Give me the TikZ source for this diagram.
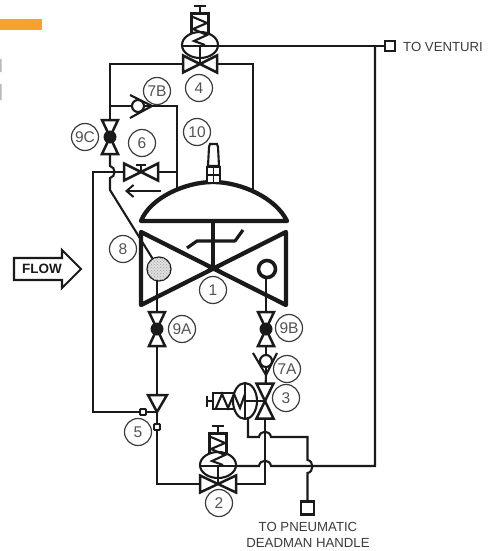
\documentclass[tikz,border=0pt]{standalone}
\usepackage{fontspec}
\setmainfont{Liberation Sans}
\usetikzlibrary{patterns,arrows.meta}
\definecolor{barorange}{HTML}{F9A12E}
\definecolor{ink}{HTML}{1A1A1A}
\tikzset{
  pipe/.style={draw=ink,line width=2.1pt,line join=miter},
  heavy/.style={draw=ink,line width=4.3pt,line join=round,line cap=round},
  tag/.style={circle,draw=ink!85,line width=1.2pt,minimum size=27pt,inner sep=0pt,font=\fontsize{15.5}{16}\selectfont,text=ink!75},
  caption/.style={font=\fontsize{13.2}{15}\selectfont,text=ink!85,inner sep=0pt},
  port/.style={draw=ink,line width=2.1pt,fill=white,minimum size=10pt,inner sep=0pt},
  tinyport/.style={draw=ink,line width=1.8pt,fill=white,rounded corners=1pt,minimum size=6pt,inner sep=0pt},
  pics/bowh/.style={code={\draw[pipe,line width=2.5pt,fill=white] (-#1,-8.5)--(#1,8.5)--(#1,-8.5)--(-#1,8.5)--cycle;}},
  pics/bowv/.style={code={\draw[pipe,line width=2.5pt,fill=white] (-8.5,-#1)--(8.5,#1)--(-8.5,#1)--(8.5,-#1)--cycle;}},
  pics/ballv/.style={code={\draw[pipe,line width=2.5pt,fill=white] (-8,-17)--(8,17)--(-8,17)--(8,-17)--cycle;\fill[ink] (0,0) circle (6.5);}},
  pics/actuator/.style={code={
    \draw[pipe,fill=white] (0,0) ellipse (18 and 13);
    \draw[pipe] (-18,1)--(18,1) (0,1)--(0,19);
    \draw[pipe] (-8.5,-11)--(-8.5,-31.5)--(8.5,-31.5)--(8.5,-11);
    \draw[pipe] (-7,-28)--(7,-22)--(-7,-16)--(7,-10)--(-6,-4)--(5,0);
    \draw[pipe] (0,-31.5)--(0,-39) (-6,-39)--(6,-39);
  }},
}
\begin{document}
\begin{tikzpicture}[x=1pt,y=-1pt]
\useasboundingbox (0,0) rectangle (488,551);
\fill[white] (0,0) rectangle (488,551);
\fill[barorange] (0,19) rectangle (42,30);
\fill[gray!55] (0,59) rectangle (1.5,72) (0,84) rectangle (1.5,100);

% key points
\coordinate (v4) at (200,64);
\coordinate (a4) at (200,45);
\coordinate (v2) at (218,484);
\coordinate (a2) at (218,465);
\coordinate (v6) at (141,172);
\coordinate (v9c) at (110,137);
\coordinate (v9a) at (157,329);
\coordinate (v9b) at (266,329);
\coordinate (v3) at (265,401);
\coordinate (a3) at (245,401);
\coordinate (v5) at (157,412);
\coordinate (c7b) at (152,106);
\coordinate (c7a) at (266,375);
\coordinate (main) at (213,268);
\node[port] (venturi) at (390,46) {};
\node[port,minimum size=13pt] (dead) at (307.5,508) {};
\node[tinyport] (p5a) at (143,412) {};
\node[tinyport] (p5b) at (157,427) {};
\node[circle,minimum size=24pt,inner sep=0pt] (ball8) at (159,269) {};
\node[circle,minimum size=16pt,inner sep=0pt] (ring) at (267,269) {};

% pipes
\draw[pipe] (v4) ++(-17,0) -- (110,64) -- (v9c);
\draw[pipe] (v4) ++(17,0) -- (253,64) -- (253,191);
\draw[pipe] (a4) ++(18,1) -- (venturi.west);
\draw[pipe] (110,106) -- (c7b) -- (177,106) -- (177,192);
\draw[pipe] (v6) -- (177,172);
\draw[pipe] (v6) -- (93,172) -- (93,412) -- (v5);
\draw[pipe] (v9c) -- (110,166) .. controls (116,167) and (116,177) .. (110,178) -- (110,190) -- (ball8);
\draw[pipe] (157,281) -- (157,395);
\draw[pipe] (v5) -- (p5b);
\draw[pipe] (p5b) -- (157,484) -- (v2);
\draw[pipe] (266,277) -- (266,345) -- (c7a);
\draw[pipe] (c7a) -- (v3);
\draw[pipe] (a3) -- (v3);
\draw[pipe] (v3) -- (265,484) -- (v2);
\draw[pipe] (248,414) -- (248,437) -- (259,437) .. controls (260,430) and (270,430) .. (271,437) -- (307.5,437) -- (307.5,460) .. controls (314,461) and (314,472) .. (307.5,473) -- (dead.north);
\draw[pipe] (a2) ++(18,1) -- (259,466) .. controls (260,459) and (270,459) .. (271,466) -- (375,466) -- (375,46);

% valves
\pic at (v4) {bowh=17};
\pic at (a4) {actuator};
\pic at (v2) {bowh=18};
\pic at (a2) {actuator};
\pic at (v6) {bowh=17};
\draw[pipe] (v6) -- (141,165) (136,165) -- (146,165);
\pic at (v9c) {ballv};
\pic at (v9a) {ballv};
\pic at (v9b) {ballv};
\pic at (v3) {bowv=17.5};

% valve 3 actuator
\draw[pipe,fill=white] (a3) ellipse (12 and 18);
\draw[pipe] (a3) ++(0,-18) -- ++(0,36) (a3) -- (v3);
\draw[pipe] (234,393) -- (213,393) -- (213,409) -- (234,409);
\draw[pipe] (216,408) -- (222,394) -- (228,408) -- (234,394) -- (240,408) -- (245,394);
\draw[pipe] (213,401) -- (207,401) (207,396) -- (207,407);

% check valves
\draw[pipe,fill=white] (138,106) circle (6);
\draw[pipe,line join=round] (130,95) -- (c7b) -- (130,118);
\draw[pipe,fill=white] (266,361) circle (6);
\draw[pipe,line join=round] (253,353) -- (c7a) -- (277,353);

% valve 5
\draw[pipe,fill=white,line width=2.5pt] (148,395) -- (167,395) -- (157,412) -- cycle;
\node[tinyport] at (143,412) {};
\node[tinyport] at (157,427) {};

% main valve and dome
\draw[pipe,line width=3.4pt] (main) -- (213,221);
\draw[heavy,fill=white] (141,221) .. controls (150,198) and (185,182) .. (213,182) .. controls (241,182) and (276,198) .. (287,221) -- cycle;
\draw[heavy] (141,232) -- (286,305) -- (286,232) -- (141,305) -- cycle;
\draw[draw=ink,line width=3.2pt,line join=round] (187,248) -- (197,241) -- (235,241) -- (243,230);
\node[circle,draw=ink,line width=1.2pt,fill=gray!25,minimum size=24pt,inner sep=0pt] at (159,269) {};
\node[circle,pattern=crosshatch dots,pattern color=gray!75,minimum size=24pt,inner sep=0pt] at (159,269) {};
\node[circle,draw=ink,line width=3.6pt,fill=white,minimum size=17pt,inner sep=0pt] at (267,269) {};

% sensor 10
\draw[pipe,fill=white] (208,166) -- (209,147) -- (210,144) -- (217,144) -- (218,147) -- (219,166) -- cycle;
\draw[pipe,fill=white] (207,167) rectangle (220,183);
\draw[pipe,line width=1.4pt] (213.5,167) -- (213.5,183) (207,175) -- (220,175);

% flow direction arrow
\coordinate (ar1) at (161,191);
\coordinate (ar2) at (125,191);
\draw[draw=ink,line width=2pt,-{Straight Barb[length=7pt,width=12pt]}] (ar1) -- (ar2);

% flow block arrow
\draw[draw=ink,line width=2.1pt,fill=white] (14,258) -- (62,258) -- (62,250) -- (81,269) -- (62,288) -- (62,280) -- (14,280) -- cycle;
\node[font=\bfseries\fontsize{13.5}{15}\selectfont,text=ink,inner sep=0pt] (flow) at (42,269) {FLOW};

% tags
\node[tag] (t4) at (199,88) {4};
\node[tag] (t7b) at (157,91) {7B};
\node[tag] (t10) at (197,132) {10};
\node[tag] (t9c) at (85,137) {9C};
\node[tag] (t6) at (142,143) {6};
\node[tag] (t8) at (123,249) {8};
\node[tag] (t1) at (213,290) {1};
\node[tag] (t9a) at (182,329) {9A};
\node[tag] (t9b) at (289,328) {9B};
\node[tag] (t7a) at (287,369) {7A};
\node[tag] (t3) at (286,398) {3};
\node[tag] (t5) at (138,432) {5};
\node[tag] (t2) at (219,503) {2};

% captions
\node[caption,anchor=west] (cv) at (403,47) {TO VENTURI};
\node[caption] (cd1) at (308,527) {TO PNEUMATIC};
\node[caption] (cd2) at (308,543) {DEADMAN HANDLE};
\end{tikzpicture}
\end{document}
